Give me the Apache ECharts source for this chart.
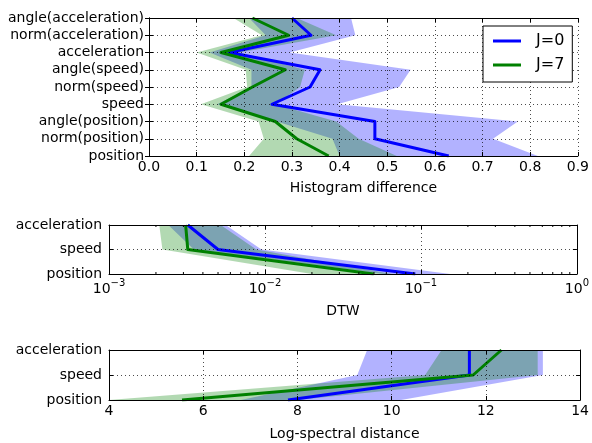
<!DOCTYPE html>
<html lang="en">
<head>
    <meta charset="UTF-8">
    <title>Distances</title>
    <script src="https://cdn.jsdelivr.net/npm/echarts@6/dist/echarts.min.js"></script>
    <style>
        html, body { margin: 0; padding: 0; background: #fff; }
        #main { width: 592px; height: 443px; }
    </style>
</head>
<body>
<div id="main"></div>

<script type="text/javascript">

    // categories, bottom to top
    var histCats = ['position', 'norm(position)', 'angle(position)', 'speed', 'norm(speed)', 'angle(speed)',
        'acceleration', 'norm(acceleration)', 'angle(acceleration)'];
    var shortCats = ['position', 'speed', 'acceleration'];

    // Histogram difference
    var histJ0 = [0.629, 0.474, 0.474, 0.258, 0.338, 0.359, 0.168, 0.340, 0.300];
    var histJ0Lo = [0.40, 0.385, 0.268, 0.143, 0.215, 0.215, 0.127, 0.245, 0.21];
    var histJ0Hi = [0.816, 0.722, 0.774, 0.395, 0.525, 0.549, 0.295, 0.433, 0.424];
    var histJ7 = [0.377, 0.31, 0.265, 0.151, 0.217, 0.286, 0.151, 0.293, 0.217];
    var histJ7Lo = [0.21, 0.241, 0.23, 0.109, 0.206, 0.203, 0.10, 0.237, 0.177];
    var histJ7Hi = [0.52, 0.44, 0.393, 0.265, 0.317, 0.327, 0.19, 0.393, 0.31];

    // DTW (log scale)
    var dtwJ0 = [0.092, 0.0050, 0.0032];
    var dtwJ0Lo = [0.058, 0.0035, 0.0024];
    var dtwJ0Hi = [0.154, 0.0095, 0.0056];
    var dtwJ7 = [0.0498, 0.0032, 0.0031];
    var dtwJ7Lo = [0.020, 0.0022, 0.0021];
    var dtwJ7Hi = [0.065, 0.0088, 0.0052];
    var dtwMinorTicks = [0.002, 0.003, 0.004, 0.005, 0.006, 0.007, 0.008, 0.009,
        0.02, 0.03, 0.04, 0.05, 0.06, 0.07, 0.08, 0.09,
        0.2, 0.3, 0.4, 0.5, 0.6, 0.7, 0.8, 0.9];

    // Log-spectral distance
    var lsdJ0 = [7.8, 11.65, 11.65];
    var lsdJ0Lo = [6.8, 9.27, 9.48];
    var lsdJ0Hi = [10.2, 13.21, 13.21];
    var lsdJ7 = [5.55, 11.73, 12.33];
    var lsdJ7Lo = [4.0, 10.71, 11.06];
    var lsdJ7Hi = [8.0, 13.1, 13.1];

    var FONT = 'DejaVu Sans';
    var BLUE = '#0000ff';
    var GREEN = '#008000';
    var BLUE_FILL = 'rgba(0,0,255,0.3)';
    var GREEN_FILL = 'rgba(0,128,0,0.3)';

    var dotted = {show: true, lineStyle: {color: '#000', width: 1, type: [1, 3], opacity: 0.7}};
    var tick = {show: true, inside: true, length: 4, interval: 0, lineStyle: {color: '#000'}};
    var frameLine = {show: true, lineStyle: {color: '#000', width: 1}};

    function xAxis(grid, pos, extra) {
        var a = {
            gridIndex: grid, position: pos, z: 10,
            axisLine: frameLine, axisTick: tick,
            splitLine: pos === 'bottom' ? dotted : {show: false},
            axisLabel: {show: pos === 'bottom', color: '#000', fontFamily: FONT, fontSize: 14, margin: 4},
            nameLocation: 'middle',
            nameTextStyle: {color: '#000', fontFamily: FONT, fontSize: 14}
        };
        for (var k in extra) a[k] = extra[k];
        return a;
    }

    function yAxis(grid, pos, cats, margin) {
        return {
            gridIndex: grid, position: pos, type: 'category', data: cats, boundaryGap: false, z: 10,
            axisLine: frameLine, axisTick: tick,
            splitLine: pos === 'left' ? {show: true, interval: 0, lineStyle: dotted.lineStyle} : {show: false},
            axisLabel: {show: pos === 'left', interval: 0, color: '#000', fontFamily: FONT, fontSize: 14, margin: margin}
        };
    }

    function band(ax, lo, hi, color) {
        return {
            type: 'custom', xAxisIndex: ax, yAxisIndex: ax, silent: true, z: 1,
            data: lo.map(function (v, i) { return [v, hi[i], i]; }),
            encode: {x: [0, 1], y: 2},
            renderItem: function (params, api) {
                if (params.dataIndex !== 0) return null;
                var pts = [];
                for (var i = 0; i < lo.length; i++) pts.push(api.coord([lo[i], i]));
                for (var j = hi.length - 1; j >= 0; j--) pts.push(api.coord([hi[j], j]));
                return {type: 'polygon', shape: {points: pts}, style: {fill: color}};
            }
        };
    }

    function line(ax, name, vals, color) {
        return {
            type: 'line', name: name, xAxisIndex: ax, yAxisIndex: ax, z: 3,
            data: vals.map(function (v, i) { return [v, i]; }),
            symbol: 'none', showSymbol: false,
            lineStyle: {color: color, width: 3, join: 'round'},
            itemStyle: {color: color}
        };
    }

    function logLabel(v) {
        var e = Math.round(Math.log10(v));
        return '{b|10}{e|' + (e < 0 ? '\u2212' : '') + Math.abs(e) + '}';
    }

    var logRich = {
        b: {fontSize: 14, fontFamily: FONT, color: '#000', lineHeight: 18, verticalAlign: 'bottom'},
        e: {fontSize: 10, fontFamily: FONT, color: '#000', lineHeight: 7, verticalAlign: 'top'}
    };

    var myChart = echarts.init(document.getElementById('main'));

    var option = {
        animation: false,
        backgroundColor: '#fff',
        textStyle: {fontFamily: FONT},
        grid: [
            {left: 149, top: 18, width: 433, height: 138},
            {left: 109, top: 225, width: 470, height: 49},
            {left: 109, top: 350, width: 473, height: 50}
        ],
        legend: {
            data: ['J=0', 'J=7'],
            orient: 'vertical', left: 483, top: 26,
            icon: 'rect', itemWidth: 28, itemHeight: 3, itemGap: 8,
            padding: [7, 8, 9, 10],
            borderColor: '#000', borderWidth: 1, backgroundColor: '#fff',
            textStyle: {color: '#000', fontFamily: FONT, fontSize: 16, lineHeight: 16, padding: [0, 0, 0, 10]},
            z: 20
        },
        xAxis: [
            xAxis(0, 'bottom', {type: 'value', min: 0, max: 0.9, interval: 0.1, name: 'Histogram difference', nameGap: 25,
                axisLabel: {color: '#000', fontFamily: FONT, fontSize: 14, margin: 4,
                    formatter: function (v) { return v.toFixed(1); }}}),
            xAxis(0, 'top', {type: 'value', min: 0, max: 0.9, interval: 0.1}),
            xAxis(1, 'bottom', {type: 'log', logBase: 10, min: 0.001, max: 1, name: 'DTW', nameGap: 30,
                axisLabel: {color: '#000', margin: 4, formatter: logLabel, rich: logRich}}),
            xAxis(1, 'top', {type: 'log', logBase: 10, min: 0.001, max: 1}),
            xAxis(2, 'bottom', {type: 'value', min: 4, max: 14, interval: 2, name: 'Log-spectral distance', nameGap: 27}),
            xAxis(2, 'top', {type: 'value', min: 4, max: 14, interval: 2})
        ],
        yAxis: [
            yAxis(0, 'left', histCats, 5),
            yAxis(0, 'right', histCats, 5),
            yAxis(1, 'left', shortCats, 7),
            yAxis(1, 'right', shortCats, 7),
            yAxis(2, 'left', shortCats, 7),
            yAxis(2, 'right', shortCats, 7)
        ],
        series: [
            band(0, histJ0Lo, histJ0Hi, BLUE_FILL),
            band(0, histJ7Lo, histJ7Hi, GREEN_FILL),
            line(0, 'J=0', histJ0, BLUE),
            line(0, 'J=7', histJ7, GREEN),

            band(2, dtwJ0Lo, dtwJ0Hi, BLUE_FILL),
            band(2, dtwJ7Lo, dtwJ7Hi, GREEN_FILL),
            line(2, 'J=0', dtwJ0, BLUE),
            line(2, 'J=7', dtwJ7, GREEN),

            band(4, lsdJ0Lo, lsdJ0Hi, BLUE_FILL),
            band(4, lsdJ7Lo, lsdJ7Hi, GREEN_FILL),
            line(4, 'J=0', lsdJ0, BLUE),
            line(4, 'J=7', lsdJ7, GREEN),

            // minor ticks of the log axis, top and bottom
            {
                type: 'custom', xAxisIndex: 2, yAxisIndex: 2, silent: true, z: 10,
                data: dtwMinorTicks.map(function (v) { return [v, 0]; }),
                encode: {x: 0, y: 1},
                renderItem: function (params, api) {
                    var v = api.value(0);
                    var top = api.coord([v, 2]);
                    var bot = api.coord([v, 0]);
                    var st = {stroke: '#000', lineWidth: 1};
                    return {
                        type: 'group', children: [
                            {type: 'line', shape: {x1: top[0], y1: top[1], x2: top[0], y2: top[1] + 2}, style: st},
                            {type: 'line', shape: {x1: bot[0], y1: bot[1], x2: bot[0], y2: bot[1] - 2}, style: st}
                        ]
                    };
                }
            }
        ]
    };

    myChart.setOption(option);
</script>
</body>
</html>
